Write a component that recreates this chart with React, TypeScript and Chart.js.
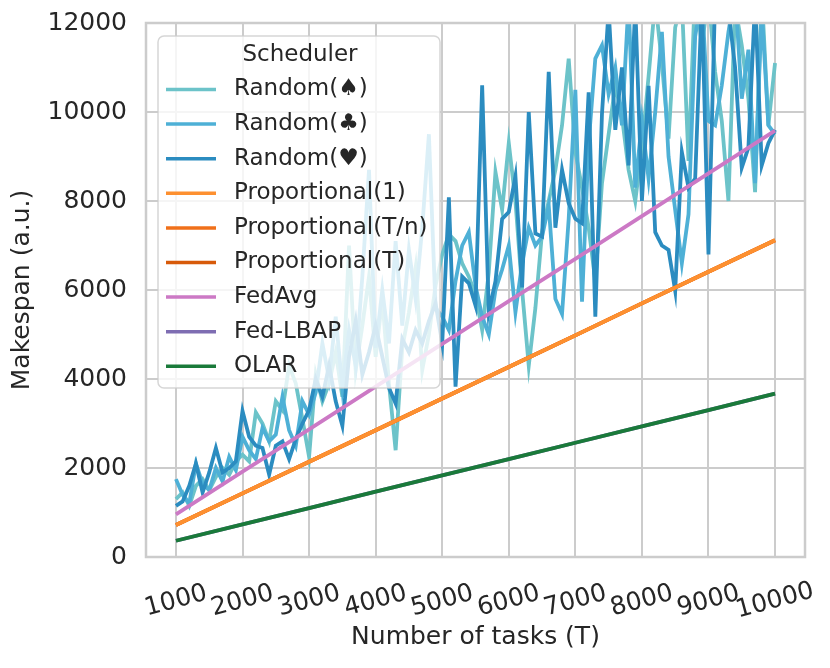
import React, { useEffect, useRef } from 'react'
import { Chart, registerables } from 'chart.js'

Chart.register(...registerables)
Chart.defaults.font.family = "'DejaVu Sans', sans-serif"
Chart.defaults.color = '#262626'

// number of tasks, one run every 100 tasks
const tasks = [
    1000, 1100, 1200, 1300, 1400, 1500, 1600, 1700, 1800, 1900,
    2000, 2100, 2200, 2300, 2400, 2500, 2600, 2700, 2800, 2900,
    3000, 3100, 3200, 3300, 3400, 3500, 3600, 3700, 3800, 3900,
    4000, 4100, 4200, 4300, 4400, 4500, 4600, 4700, 4800, 4900,
    5000, 5100, 5200, 5300, 5400, 5500, 5600, 5700, 5800, 5900,
    6000, 6100, 6200, 6300, 6400, 6500, 6600, 6700, 6800, 6900,
    7000, 7100, 7200, 7300, 7400, 7500, 7600, 7700, 7800, 7900,
    8000, 8100, 8200, 8300, 8400, 8500, 8600, 8700, 8800, 8900,
    9000, 9100, 9200, 9300, 9400, 9500, 9600, 9700, 9800, 9900,
    10000,
]

// the straight-line schedulers read every 1000 tasks
const tasksCoarse = [1000, 2000, 3000, 4000, 5000, 6000, 7000, 8000, 9000, 10000]

const randomSpade = [
    1300, 1450, 1150, 1600, 1750, 1500, 1800, 2000, 1850, 2150,
    2300, 2150, 3250, 3000, 2600, 3500, 3300, 4300, 3900, 3100,
    2250, 4100, 3500, 3900, 4600, 3600, 7000, 4200, 5200, 6300,
    4500, 5800, 3900, 2400, 4700, 5500, 6500, 4200, 5000, 6100,
    6800, 7250, 7100, 6600, 6300, 5900, 5100, 6400, 8650, 7800,
    9300, 8000, 6000, 4300, 5600, 7300, 8000, 8700, 9700, 11200,
    9100, 8300, 7400, 6200, 8400, 9500, 10600, 9900, 8700, 8000,
    9200, 10800, 12500, 11100, 9400, 11900, 12500, 8900, 12800, 11500,
    12600, 10900, 9800, 8000, 12400, 11500, 10300, 8200, 12700, 9700,
    11100,
]

const randomClub = [
    1750, 1400, 1200, 2100, 1650, 1500, 2000, 1700, 2250, 1950,
    2700, 2400, 2200, 2900, 2600, 2750, 3600, 2850, 2500, 3500,
    3200, 3700, 4800, 4000, 5400, 3800, 5100, 4300, 6300, 8700,
    4700, 6000, 4800, 7100, 5200, 6900, 5800, 7400, 9500, 5600,
    5400, 5100, 6200, 7000, 7300, 6100, 5400, 5000, 6000, 6460,
    7000, 5500, 6600, 7400, 7000, 7200, 7900, 5800, 5460, 7600,
    10500, 5740, 9300, 11200, 11500, 10400, 11000, 9700, 12500, 8300,
    9800, 8500, 10000, 11800, 9000, 7800, 6600, 7700, 11700, 12600,
    9800, 9700, 10600, 11800, 12700, 10300, 11400, 8400, 12300, 9700,
    9500,
]

const randomHeart = [
    1150, 1250, 1600, 2100, 1450, 1900, 2450, 1900, 2000, 2150,
    3280, 2700, 2500, 2450, 1850, 2500, 2600, 2200, 2650, 3000,
    3300, 4000, 3600, 4300, 3500, 2950, 4500, 5300, 4100, 4600,
    5200, 4500, 3800, 3450, 4900, 4600, 5100, 4800, 5300, 5700,
    4800, 8080, 3830, 6300, 6150, 5650, 10600, 5500, 6200, 7600,
    7750, 8560, 6060, 10000, 7270, 7200, 10900, 7400, 8700, 7950,
    7600, 7500, 10440, 5400, 9960, 12300, 9600, 11000, 8800, 12400,
    8000, 10590, 7300, 7000, 6900, 5980, 9100, 8300, 8500, 12500,
    6800, 12600, 12800, 12300, 11000, 8750, 9200, 12500, 8800, 9300,
    9600,
]

const proportionalOne = [720, 1430, 2140, 2850, 3560, 4270, 4980, 5700, 6410, 7120]
const proportionalTn = [720, 1430, 2140, 2850, 3560, 4270, 4980, 5700, 6410, 7120]
const proportionalT = [720, 1430, 2140, 2850, 3560, 4270, 4980, 5700, 6410, 7120]
const fedAvg = [960, 1920, 2870, 3830, 4790, 5750, 6700, 7660, 8620, 9580]
const fedLbap = [365, 732, 1100, 1467, 1834, 2200, 2568, 2935, 3302, 3670]
const olar = [365, 732, 1100, 1467, 1834, 2200, 2568, 2935, 3302, 3670]

const xTickValues = [1000, 2000, 3000, 4000, 5000, 6000, 7000, 8000, 9000, 10000]
const yTickValues = [0, 2000, 4000, 6000, 8000, 10000, 12000]

const seriesNames = [
    'Random(♠)', 'Random(♣)', 'Random(♥)',
    'Proportional(1)', 'Proportional(T/n)', 'Proportional(T)',
    'FedAvg', 'Fed-LBAP', 'OLAR',
]
const seriesColors = [
    '#6cc3c9', '#4eb0d6', '#2b8cc0',
    '#fd9030', '#f0701a', '#d75a0a',
    '#cc79c5', '#7e6db2', '#1a7a3a',
]
// drawing layer of each series, higher is on top
const seriesLayer = [0, 1, 2, 5, 4, 3, 6, 7, 8]

const textColor = '#262626'
const gridColor = '#cccccc'

const pairs = (xs: number[], ys: number[]) => xs.map((x, i) => ({ x, y: ys[i] }))

const roundRect = (ctx: CanvasRenderingContext2D, x: number, y: number, w: number, h: number, r: number) => {
    ctx.beginPath()
    ctx.moveTo(x + r, y)
    ctx.lineTo(x + w - r, y)
    ctx.arcTo(x + w, y, x + w, y + r, r)
    ctx.lineTo(x + w, y + h - r)
    ctx.arcTo(x + w, y + h, x + w - r, y + h, r)
    ctx.lineTo(x + r, y + h)
    ctx.arcTo(x, y + h, x, y + h - r, r)
    ctx.lineTo(x, y + r)
    ctx.arcTo(x, y, x + r, y, r)
    ctx.closePath()
}

// frame, legend inside the axes, tick labels and both axis titles
const decorations = {
    id: 'decorations',
    afterDatasetsDraw(chart: any) {
        const { ctx, chartArea: area, scales } = chart
        ctx.save()

        ctx.strokeStyle = gridColor
        ctx.lineWidth = 2.5
        ctx.strokeRect(area.left, area.top, area.right - area.left, area.bottom - area.top)

        // legend
        const lx = area.left + 12
        const ly = area.top + 13
        roundRect(ctx, lx, ly, 282, 352, 6)
        ctx.fillStyle = 'rgba(255,255,255,0.8)'
        ctx.fill()
        ctx.strokeStyle = 'rgba(204,204,204,0.8)'
        ctx.lineWidth = 1.5
        ctx.stroke()

        ctx.fillStyle = textColor
        ctx.font = "23px 'DejaVu Sans'"
        ctx.textBaseline = 'middle'
        ctx.textAlign = 'center'
        ctx.fillText('Scheduler', lx + 142, ly + 19)
        ctx.textAlign = 'left'
        seriesNames.forEach((name, i) => {
            const y = ly + 53.5 + i * 34.6
            ctx.strokeStyle = seriesColors[i]
            ctx.lineWidth = 3.5
            ctx.beginPath()
            ctx.moveTo(lx + 8, y)
            ctx.lineTo(lx + 58, y)
            ctx.stroke()
            ctx.fillText(name, lx + 76, y)
        })

        ctx.font = "25px 'DejaVu Sans'"

        // y tick labels
        ctx.textAlign = 'right'
        yTickValues.forEach((v) => {
            ctx.fillText(String(v), area.left - 19, scales.y.getPixelForValue(v))
        })

        // x tick labels, rotated 15 degrees and centred on the tick
        ctx.textAlign = 'center'
        xTickValues.forEach((v) => {
            const px = scales.x.getPixelForValue(v)
            ctx.save()
            ctx.translate(px, area.bottom + 44)
            ctx.rotate(-15 * Math.PI / 180)
            ctx.fillText(String(v), 0, 0)
            ctx.restore()
        })

        // axis titles
        ctx.fillText('Number of tasks (T)', (area.left + area.right) / 2, area.bottom + 80)
        ctx.save()
        ctx.translate(22, (area.top + area.bottom) / 2)
        ctx.rotate(-Math.PI / 2)
        ctx.fillText('Makespan (a.u.)', 0, 0)
        ctx.restore()

        ctx.restore()
    },
}

const App: React.FunctionComponent = () => {
    const chartRef = useRef<HTMLCanvasElement>(null)

    useEffect(() => {
        document.body.style.margin = '0'
        const ctx = chartRef.current!.getContext('2d') as CanvasRenderingContext2D

        const fine = [randomSpade, randomClub, randomHeart].map((ys) => pairs(tasks, ys))
        const coarse = [proportionalOne, proportionalTn, proportionalT, fedAvg, fedLbap, olar]
            .map((ys) => pairs(tasksCoarse, ys))
        const all = [...fine, ...coarse]

        const chart = new Chart(ctx, {
            type: 'line',
            data: {
                datasets: all.map((data, i) => ({
                    label: seriesNames[i],
                    data,
                    borderColor: seriesColors[i],
                    backgroundColor: seriesColors[i],
                    borderWidth: 3.8,
                    pointRadius: 0,
                    tension: 0,
                    fill: false,
                    // chart.js puts the lowest order on top
                    order: 8 - seriesLayer[i],
                })),
            },
            options: {
                animation: false,
                responsive: true,
                maintainAspectRatio: false,
                layout: { padding: { top: 23, right: 25, left: 0, bottom: 0 } },
                plugins: {
                    legend: { display: false },
                    tooltip: { enabled: false },
                },
                scales: {
                    x: {
                        type: 'linear',
                        min: 550,
                        max: 10450,
                        afterBuildTicks: (scale: any) => {
                            scale.ticks = xTickValues.map((value) => ({ value }))
                        },
                        afterFit: (scale: any) => {
                            scale.height = 111
                        },
                        ticks: { display: false },
                        grid: { color: gridColor, lineWidth: 2, drawTicks: false },
                        border: { display: false },
                    },
                    y: {
                        min: 0,
                        max: 12000,
                        afterBuildTicks: (scale: any) => {
                            scale.ticks = yTickValues.map((value) => ({ value }))
                        },
                        afterFit: (scale: any) => {
                            scale.width = 146
                        },
                        ticks: { display: false },
                        grid: { color: gridColor, lineWidth: 2, drawTicks: false },
                        border: { display: false },
                    },
                },
            },
            plugins: [decorations],
        })

        return () => {
            chart.destroy()
        }
    }, [])

    return (
        <div style={{ position: 'relative', width: '830px', height: '668px' }}>
            <canvas ref={chartRef}></canvas>
        </div>
    )
}

export default App
